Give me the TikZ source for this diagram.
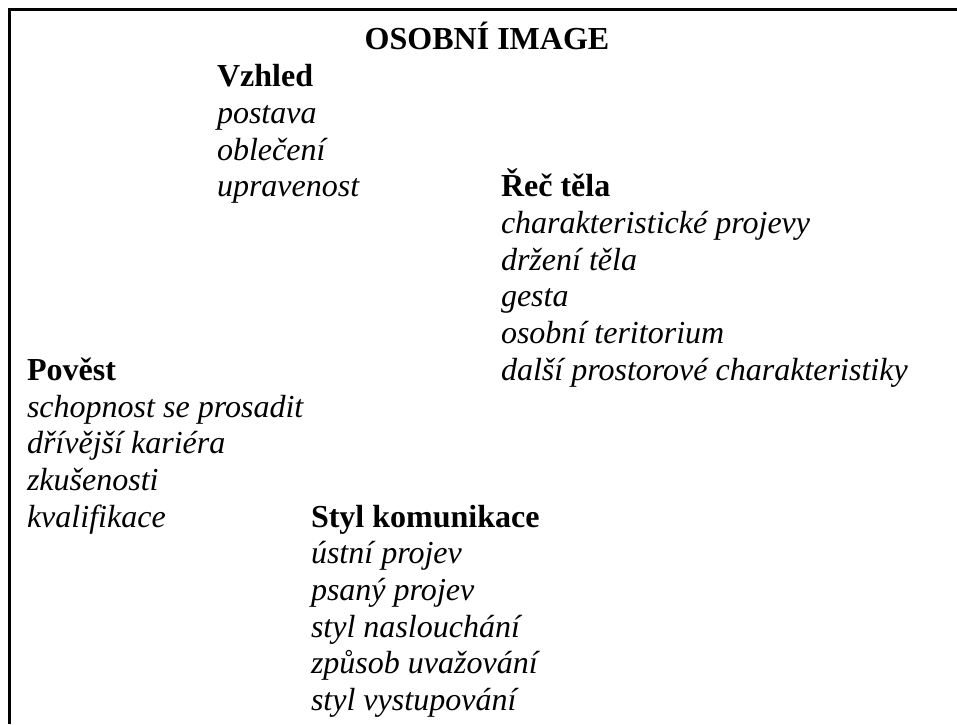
\documentclass[tikz,border=0pt]{standalone}
\usepackage{fontspec}
\setmainfont{Liberation Serif}
\begin{document}
\begin{tikzpicture}[x=0.381pt,y=-0.381pt,
  txt/.style={anchor=base west,inner sep=0pt,outer sep=0pt,font=\fontsize{12.2pt}{14pt}\selectfont},
  head/.style={txt,font=\fontsize{12.2pt}{14pt}\selectfont\bfseries},
  item/.style={txt,font=\fontsize{12.2pt}{14pt}\selectfont\itshape},
  frame/.style={line width=1pt,black}]
\useasboundingbox (0,0) rectangle (957,724);
% frame (top and left edges only)
\coordinate (fTR) at (957,9.5);
\coordinate (fTL) at (9.5,9.5);
\coordinate (fBL) at (9.5,724);
\draw[frame] (fTR) -- (fTL) -- (fBL);
% title
\node[head,anchor=base] (title) at (487,50) {OSOBNÍ IMAGE};
% Vzhled
\node[head] (vz) at (217,86.7) {Vzhled};
\node[item] (vz1) at (217,123.4) {postava};
\node[item] (vz2) at (217,160.1) {oblečení};
\node[item] (vz3) at (217,196.8) {upravenost};
% Rec tela
\node[head] (rt) at (501,196.8) {Řeč těla};
\node[item] (rt1) at (501,233.5) {charakteristické projevy};
\node[item] (rt2) at (501,270.2) {držení těla};
\node[item] (rt3) at (501,306.9) {gesta};
\node[item] (rt4) at (501,343.6) {osobní teritorium};
\node[item] (rt5) at (501,380.3) {další prostorové charakteristiky};
% Povest
\node[head] (pv) at (27,380.3) {Pověst};
\node[item] (pv1) at (27,417) {schopnost se prosadit};
\node[item] (pv2) at (27,453.7) {dřívější kariéra};
\node[item] (pv3) at (27,490.4) {zkušenosti};
\node[item] (pv4) at (27,527.1) {kvalifikace};
% Styl komunikace
\node[head] (sk) at (311,527.1) {Styl komunikace};
\node[item] (sk1) at (311,563.8) {ústní projev};
\node[item] (sk2) at (311,600.5) {psaný projev};
\node[item] (sk3) at (311,637.2) {styl naslouchání};
\node[item] (sk4) at (311,673.9) {způsob uvažování};
\node[item] (sk5) at (311,710.6) {styl vystupování};
\end{tikzpicture}
\end{document}
